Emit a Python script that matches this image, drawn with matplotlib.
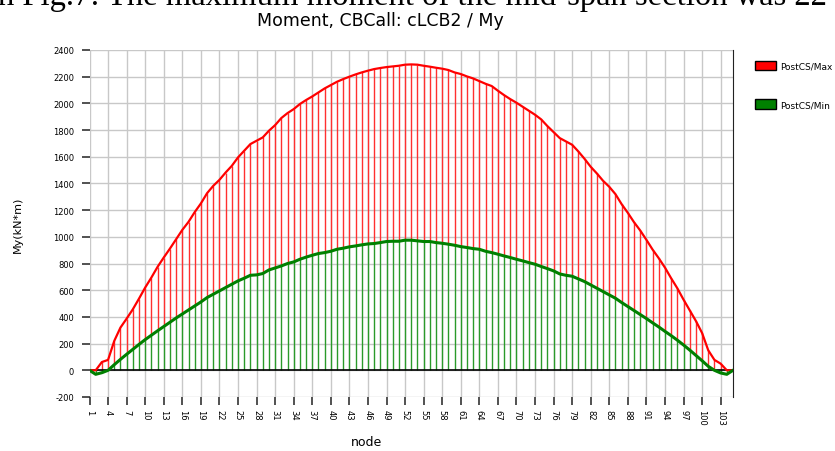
import numpy as np
import matplotlib
matplotlib.use("Agg")
import matplotlib.pyplot as plt
from matplotlib.patches import Patch

# node numbers 1..105
nodes = np.arange(1, 106)

# PostCS/Max moment My (kN*m)
my_max = [
    0, 0, 62, 78, 220, 320, 387, 457, 537, 620,
    695, 775, 845, 912, 982, 1052, 1112, 1185, 1250, 1327,
    1382, 1427, 1482, 1532, 1595, 1645, 1695, 1720, 1745, 1795,
    1837, 1890, 1927, 1957, 1995, 2025, 2052, 2082, 2112, 2137,
    2162, 2182, 2200, 2217, 2232, 2245, 2257, 2265, 2272, 2277,
    2282, 2290, 2292, 2290, 2282, 2275, 2267, 2260, 2250, 2232,
    2220, 2202, 2187, 2167, 2147, 2130, 2095, 2062, 2032, 2005,
    1975, 1945, 1915, 1880, 1830, 1785, 1740, 1715, 1690, 1640,
    1585, 1525, 1475, 1420, 1375, 1320, 1245, 1180, 1110, 1048,
    978, 905, 840, 770, 690, 615, 530, 450, 370, 280,
    150, 78, 50, 0, 0,
]

# PostCS/Min moment My (kN*m)
my_min = [
    0, -30, -18, 0, 42, 82, 120, 157, 194, 230,
    263, 296, 328, 360, 392, 422, 452, 482, 512, 545,
    570, 595, 620, 645, 670, 690, 712, 715, 725, 752,
    767, 782, 800, 812, 832, 848, 862, 875, 882, 892,
    907, 915, 925, 932, 940, 947, 950, 957, 965, 967,
    967, 975, 975, 970, 965, 965, 957, 952, 945, 937,
    927, 920, 912, 907, 892, 882, 870, 857, 845, 832,
    820, 807, 795, 778, 762, 745, 722, 712, 705, 685,
    665, 640, 615, 590, 565, 540, 508, 478, 448, 418,
    388, 356, 325, 292, 260, 226, 190, 152, 112, 72,
    30, 0, -20, -30, 0,
]

xticks = np.arange(1, 106, 3)
yticks = np.arange(-200, 2401, 200)

plt.rcParams['font.family'] = ['DejaVu Sans']

fig = plt.figure(figsize=(8.35, 4.52), dpi=100)
ax = fig.add_axes([89.5 / 835, 1 - 398 / 452, (733 - 89.5) / 835, (398 - 51) / 452])

# red stems only above the green band so the colours don't mix
ax.vlines(nodes, np.maximum(my_min, 0), my_max, colors='#ff3030', lw=1.0)
ax.vlines(nodes, 0, my_min, colors='#2a9a2a', lw=1.0)
ax.axhline(0, color='black', lw=1.2)
ax.plot(nodes, my_max, color='#ff0000', lw=1.6)
ax.plot(nodes, my_min, color='#008000', lw=2.2)

ax.set_xlim(1, 105)
ax.set_ylim(-200, 2400)
ax.set_xticks(xticks)
ax.set_xticklabels([str(t) for t in xticks], rotation=270, fontsize=6)
ax.set_yticks(yticks)
ax.set_yticklabels([str(t) for t in yticks], fontsize=6)
ax.tick_params(axis='both', length=6, width=1.1, color='#222222', pad=3)
ax.tick_params(axis='y', pad=5)
ax.grid(True, color='#c8c8c8', lw=1)
ax.set_axisbelow(True)
for side in ['top', 'left', 'bottom']:
    ax.spines[side].set_visible(False)
ax.spines['right'].set_color('#222222')

fig.text(380 / 835, 1 - 21 / 452, 'Moment, CBCall: cLCB2 / My', ha='center', va='center', fontsize=12.5)
fig.text(366 / 835, 1 - 443 / 452, 'node', ha='center', va='center', fontsize=9)
fig.text(18 / 835, 1 - 225 / 452, 'My(kN*m)', ha='center', va='center', rotation=90, fontsize=8)

# cut-off line of document text above the chart (only its lower part shows)
fig.text(-2 / 835, 1 - 5 / 452, 'n Fig.7: The maximum moment of the mid-span section was 22',
         ha='left', va='baseline', fontsize=23.5, family='Liberation Serif')

handles = [Patch(facecolor='#ff0000', edgecolor='black', lw=1),
           Patch(facecolor='#008000', edgecolor='black', lw=1)]
fig.legend(handles, ['PostCS/Max', 'PostCS/Min'], loc='upper left',
           bbox_to_anchor=(751 / 835, 1 - 58 / 452), frameon=False, fontsize=6.5,
           handlelength=2.4, handleheight=1.3, labelspacing=3.2, handletextpad=0.4,
           borderaxespad=0)

fig.savefig('out.png', dpi=100)
